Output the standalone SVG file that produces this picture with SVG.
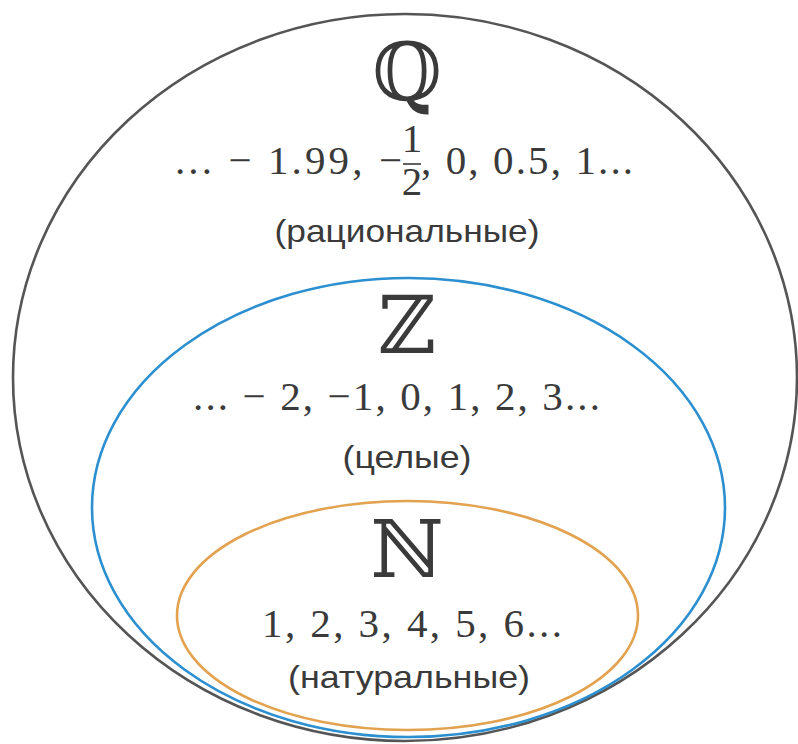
<svg xmlns="http://www.w3.org/2000/svg" width="798" height="744" viewBox="0 0 798 744">
<style>
.bb{font-family:"DejaVu Serif",serif;font-size:80px;fill:#3a3a3a;text-anchor:middle}
.num{font-family:"Liberation Serif","Times New Roman",serif;font-size:41px;fill:#3a3a3a}
.lbl{font-family:"Liberation Sans",Arial,sans-serif;font-size:32px;fill:#3a3a3a;text-anchor:middle}
.set{fill:none;stroke-width:2.6}
</style>
<rect width="798" height="744" fill="#fff"/>
<g id="rational">
<ellipse class="set" cx="405" cy="377.5" rx="392" ry="363.5" stroke="#555"/>
<text class="bb" x="407" y="100" font-size="92">ℚ</text>
<text class="num" x="402" y="174" text-anchor="end" textLength="227" lengthAdjust="spacing">... − 1.99, −</text>
<text class="num" x="412" y="152" text-anchor="middle" font-size="27">1</text>
<line x1="403" y1="164" x2="421" y2="164" stroke="#3a3a3a" stroke-width="1.6"/>
<text class="num" x="412" y="195" text-anchor="middle" font-size="27">2</text>
<text class="num" x="421" y="174" textLength="212" lengthAdjust="spacing">, 0, 0.5, 1...</text>
<text class="lbl" x="407" y="242" textLength="265" lengthAdjust="spacingAndGlyphs">(рациональные)</text>
</g>
<g id="integer">
<ellipse class="set" cx="408.5" cy="507.5" rx="316.5" ry="229.5" stroke="#2b8fd0"/>
<text class="bb" x="407" y="353">ℤ</text>
<text class="num" x="193" y="410" textLength="407" lengthAdjust="spacing">... − 2, −1, 0, 1, 2, 3...</text>
<text class="lbl" x="407" y="468" textLength="129" lengthAdjust="spacingAndGlyphs">(целые)</text>
</g>
<g id="natural">
<ellipse class="set" cx="407.5" cy="615.5" rx="230.5" ry="114.5" stroke="#e2a24f"/>
<text class="bb" x="407" y="577">ℕ</text>
<text class="num" x="262" y="637" textLength="300" lengthAdjust="spacing">1, 2, 3, 4, 5, 6...</text>
<text class="lbl" x="409" y="688" textLength="242" lengthAdjust="spacingAndGlyphs">(натуральные)</text>
</g>
</svg>
